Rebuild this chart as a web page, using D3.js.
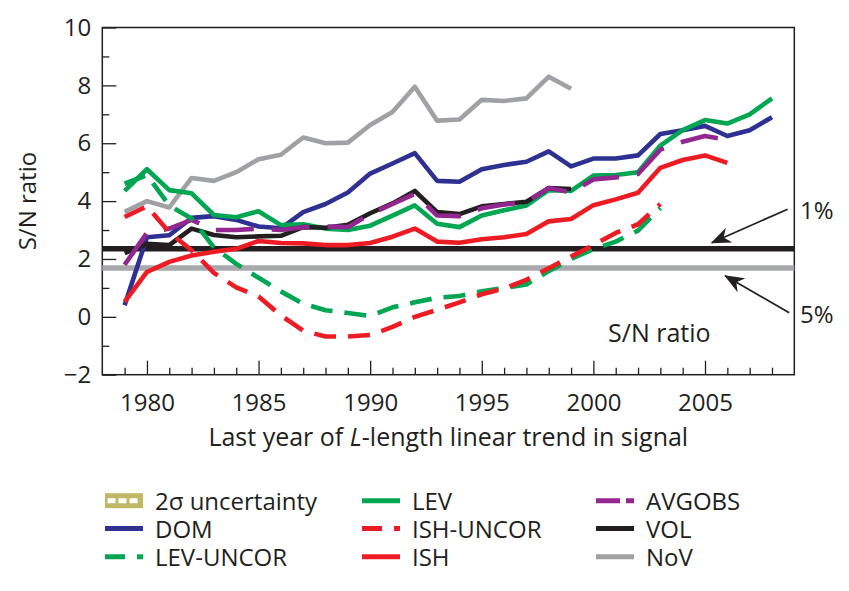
<!DOCTYPE html>
<html>
<head>
<meta charset="utf-8">
<script src="https://cdn.jsdelivr.net/npm/d3@7"></script>
<style>
  body { margin: 0; background: #fff; }
  svg text { font-family: 'Open Sans', sans-serif; fill: #231f20; }
</style>
</head>
<body>
<div id="chart"></div>
<script>
// Data (S/N ratio by last year of trend)
const years = [1979, 1980, 1981, 1982, 1983, 1984, 1985, 1986, 1987, 1988,
  1989, 1990, 1991, 1992, 1993, 1994, 1995, 1996, 1997, 1998,
  1999, 2000, 2001, 2002, 2003, 2004, 2005, 2006, 2007, 2008];

const domValues = [0.4, 2.75, 2.82, 3.42, 3.48, 3.35, 3.12, 3.06, 3.62, 3.9,
  4.3, 4.95, 5.3, 5.66, 4.7, 4.67, 5.1, 5.25, 5.36, 5.72,
  5.2, 5.47, 5.47, 5.58, 6.32, 6.45, 6.6, 6.25, 6.45, 6.9];
const levValues = [4.35, 5.1, 4.38, 4.27, 3.52, 3.44, 3.65, 3.17, 3.2, 3.05,
  3.0, 3.15, 3.5, 3.85, 3.22, 3.1, 3.5, 3.68, 3.85, 4.38,
  4.35, 4.88, 4.9, 5.0, 5.92, 6.45, 6.8, 6.68, 7.0, 7.55];
const levUncorValues = [4.6, 4.9, 3.85, 3.4, 2.4, 1.83, 1.35, 0.88, 0.45, 0.23,
  0.13, 0.03, 0.33, 0.5, 0.66, 0.72, 0.88, 1.0, 1.12, 1.58,
  2.0, 2.34, 2.6, 2.98, 3.76];
const ishValues = [0.52, 1.55, 1.9, 2.12, 2.25, 2.35, 2.62, 2.55, 2.54, 2.48,
  2.48, 2.55, 2.77, 3.05, 2.6, 2.56, 2.68, 2.75, 2.86, 3.3,
  3.38, 3.86, 4.06, 4.29, 5.15, 5.42, 5.58, 5.32];
const ishUncorValues = [3.45, 3.82, 2.92, 2.3, 1.52, 1.02, 0.7, 0.05, -0.48, -0.68,
  -0.68, -0.63, -0.35, 0.0, 0.24, 0.5, 0.78, 0.98, 1.28, 1.68,
  2.08, 2.48, 2.9, 3.2, 3.9];
const avgobsValues = [1.8, 2.9, 3.05, 3.35, 3.0, 3.0, 3.05, 3.0, 3.1, 3.12,
  3.1, 3.55, 3.9, 4.25, 3.5, 3.48, 3.75, 3.88, 3.97, 4.45,
  4.3, 4.75, 4.82, 4.94, 5.78, 6.05, 6.25, 6.12];
const volValues = [2.2, 2.52, 2.48, 3.05, 2.83, 2.75, 2.78, 2.8, 3.1, 3.08,
  3.18, 3.58, 3.92, 4.35, 3.62, 3.55, 3.82, 3.9, 3.98, 4.45, 4.42];
const novValues = [3.63, 4.0, 3.78, 4.8, 4.7, 5.0, 5.45, 5.6, 6.2, 6.0,
  6.02, 6.63, 7.08, 7.95, 6.78, 6.82, 7.5, 7.46, 7.55, 8.3, 7.88];

const threshold1 = 2.35; // 1% level
const threshold5 = 1.69; // 5% level

const xMajorTicks = [1980, 1985, 1990, 1995, 2000, 2005];
const xMinorTicks = [1979, 1981, 1982, 1983, 1984, 1986, 1987, 1988, 1989, 1991,
  1992, 1993, 1994, 1996, 1997, 1998, 1999, 2001, 2002, 2003, 2004, 2006, 2007, 2008];
const yMajorTicks = [-2, 0, 2, 4, 6, 8, 10];
const yMinorTicks = [-1, 1, 3, 5, 7, 9];

// Series drawn in this order (last on top)
const series = [
  { name: 'NoV', values: novValues, color: '#a0a1a4', dash: null },
  { name: 'DOM', values: domValues, color: '#2e3192', dash: null },
  { name: 'LEV', values: levValues, color: '#00a651', dash: null },
  { name: 'VOL', values: volValues, color: '#231f20', dash: null },
  { name: 'AVGOBS', values: avgobsValues, color: '#92278f', dash: '38,18' },
  { name: 'ISH', values: ishValues, color: '#ed1c24', dash: null },
  { name: 'LEV-UNCOR', values: levUncorValues, color: '#00a651', dash: '22,12' },
  { name: 'ISH-UNCOR', values: ishUncorValues, color: '#ed1c24', dash: '22,12' },
];

// **********************
// GRAPH CODE
// **********************

const margin = { top: 27.5, right: 54.7, bottom: 216.3, left: 102.3 };
const width = 849 - margin.left - margin.right;
const height = 591 - margin.top - margin.bottom;

const root = d3
  .select('#chart')
  .append('svg')
  .attr('width', 849)
  .attr('height', 591);

const svg = root
  .append('g')
  .attr('transform', `translate(${margin.left},${margin.top})`);

// Scales
const x = d3.scaleLinear().domain([1978, 2009]).range([0, width]);
const y = d3.scaleLinear().domain([-2, 10]).range([height, 0]);

const styleAxis = (g) => {
  g.select('.domain').remove();
  g.selectAll('line').attr('stroke', '#231f20').attr('stroke-width', 1.3);
  g.selectAll('text')
    .attr('font-size', 24)
    .attr('font-family', "'Open Sans', sans-serif")
    .attr('fill', '#231f20');
};

// X axis (ticks point inward)
svg
  .append('g')
  .attr('transform', `translate(0,${height})`)
  .call(d3.axisBottom(x).tickValues(xMinorTicks).tickSize(-7).tickFormat(''))
  .call(styleAxis);
svg
  .append('g')
  .attr('transform', `translate(0,${height})`)
  .call(
    d3.axisBottom(x).tickValues(xMajorTicks).tickSize(-14).tickPadding(19).tickFormat(d3.format('d'))
  )
  .call(styleAxis);

// Y axis
svg
  .append('g')
  .call(d3.axisLeft(y).tickValues(yMinorTicks).tickSize(-7).tickFormat(''))
  .call(styleAxis);
svg
  .append('g')
  .call(d3.axisLeft(y).tickValues(yMajorTicks).tickSize(-14).tickPadding(11))
  .call(styleAxis);

// Frame
svg
  .append('rect')
  .attr('width', width)
  .attr('height', height)
  .attr('fill', 'none')
  .attr('stroke', '#231f20')
  .attr('stroke-width', 1.5);

// Significance lines
svg
  .append('line')
  .attr('x1', 0)
  .attr('x2', width)
  .attr('y1', y(threshold5))
  .attr('y2', y(threshold5))
  .attr('stroke', '#a7a9ac')
  .attr('stroke-width', 5.5);
svg
  .append('line')
  .attr('x1', 0)
  .attr('x2', width)
  .attr('y1', y(threshold1))
  .attr('y2', y(threshold1))
  .attr('stroke', '#231f20')
  .attr('stroke-width', 5.5);

// Lines
const line = d3
  .line()
  .x((d, i) => x(years[i]))
  .y((d) => y(d));

series.forEach((s) => {
  svg
    .append('path')
    .datum(s.values)
    .attr('fill', 'none')
    .attr('stroke', s.color)
    .attr('stroke-width', 4.6)
    .attr('stroke-linejoin', 'round')
    .attr('stroke-dasharray', s.dash)
    .attr('d', line);
});

// Arrows to the significance lines
root
  .append('defs')
  .append('marker')
  .attr('id', 'arrow')
  .attr('viewBox', '0 0 20 16')
  .attr('refX', 19)
  .attr('refY', 8)
  .attr('markerWidth', 20)
  .attr('markerHeight', 16)
  .attr('markerUnits', 'userSpaceOnUse')
  .attr('orient', 'auto')
  .append('path')
  .attr('d', 'M0,0 L20,8 L0,16 L6,8 Z')
  .attr('fill', '#231f20');

const arrows = [
  { from: [2008.7, 3.72], to: [2005.3, 2.56], label: '1%', labelY: 219 },
  { from: [2008.77, 0.14], to: [2005.9, 1.42], label: '5%', labelY: 323 },
];

arrows.forEach((a) => {
  svg
    .append('line')
    .attr('x1', x(a.from[0]))
    .attr('y1', y(a.from[1]))
    .attr('x2', x(a.to[0]))
    .attr('y2', y(a.to[1]))
    .attr('stroke', '#231f20')
    .attr('stroke-width', 1.8)
    .attr('marker-end', 'url(#arrow)');
  root
    .append('text')
    .attr('x', 800)
    .attr('y', a.labelY)
    .attr('font-size', 24)
    .text(a.label);
});

// In-plot label
root
  .append('text')
  .attr('x', 608)
  .attr('y', 342)
  .attr('font-size', 25)
  .text('S/N ratio');

// Axis titles
root
  .append('text')
  .attr('transform', `translate(36,${margin.top + height / 2}) rotate(-90)`)
  .attr('text-anchor', 'middle')
  .attr('font-size', 24)
  .text('S/N ratio');

const xTitle = root
  .append('text')
  .attr('x', margin.left + width / 2)
  .attr('y', 446)
  .attr('text-anchor', 'middle')
  .attr('font-size', 25);
xTitle.append('tspan').text('Last year of ');
xTitle.append('tspan').attr('font-style', 'italic').text('L');
xTitle.append('tspan').text('-length linear trend in signal');

// Legend
const legendItems = [
  { name: '2\u03c3 uncertainty', band: true, col: 0, row: 0 },
  { name: 'DOM', color: '#2e3192', dash: null, col: 0, row: 1 },
  { name: 'LEV-UNCOR', color: '#00a651', dash: '20,12', col: 0, row: 2 },
  { name: 'LEV', color: '#00a651', dash: null, col: 1, row: 0 },
  { name: 'ISH-UNCOR', color: '#ed1c24', dash: '20,12', col: 1, row: 1 },
  { name: 'ISH', color: '#ed1c24', dash: null, col: 1, row: 2 },
  { name: 'AVGOBS', color: '#92278f', dash: '24,6', col: 2, row: 0 },
  { name: 'VOL', color: '#231f20', dash: null, col: 2, row: 1 },
  { name: 'NoV', color: '#a0a1a4', dash: null, col: 2, row: 2 },
];
const colX = [105, 362, 596];
const rowY = [500.7, 528.5, 556.7];

const legend = root.append('g');
legendItems.forEach((d) => {
  const gx = colX[d.col];
  const gy = rowY[d.row];
  if (d.band) {
    legend
      .append('rect')
      .attr('x', gx)
      .attr('y', gy - 7.5)
      .attr('width', 38)
      .attr('height', 15)
      .attr('fill', '#c0b865');
    legend
      .append('line')
      .attr('x1', gx + 2.5)
      .attr('x2', gx + 35.5)
      .attr('y1', gy)
      .attr('y2', gy)
      .attr('stroke', '#fff')
      .attr('stroke-width', 5)
      .attr('stroke-dasharray', '8,3');
  } else {
    legend
      .append('line')
      .attr('x1', gx)
      .attr('x2', gx + 38)
      .attr('y1', gy)
      .attr('y2', gy)
      .attr('stroke', d.color)
      .attr('stroke-width', 5)
      .attr('stroke-dasharray', d.dash);
  }
  legend
    .append('text')
    .attr('x', gx + 50)
    .attr('y', gy + 9.5)
    .attr('font-size', 24)
    .text(d.name);
});
</script>
</body>
</html>
